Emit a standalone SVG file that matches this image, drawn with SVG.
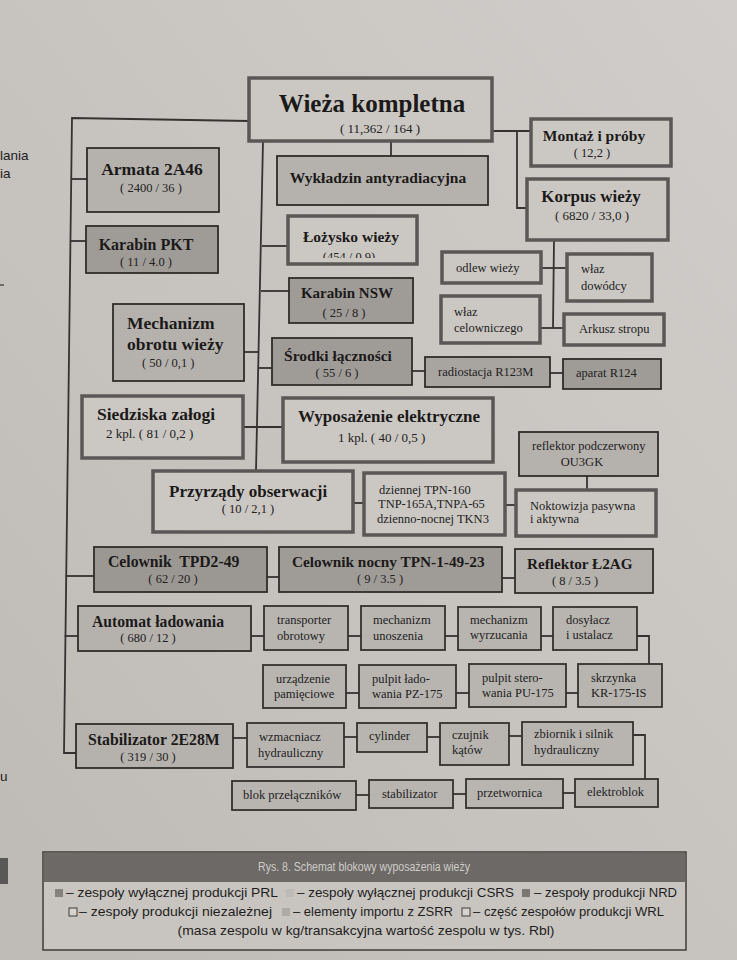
<svg xmlns="http://www.w3.org/2000/svg" width="737" height="960" viewBox="0 0 737 960">
<defs>
<linearGradient id="paper" x1="1" y1="0" x2="0" y2="1">
<stop offset="0" stop-color="#d0cdca"/>
<stop offset="1" stop-color="#bebbb7"/>
</linearGradient>
<clipPath id="cutLoz"><rect x="280" y="200" width="150" height="58"/></clipPath>
<style>
.lt{fill:#cbc8c4;stroke:#5a5856;stroke-width:3.5}
.md{fill:#b5b2ae;stroke:#2f2d2b;stroke-width:1.8}
.dk{fill:#9f9c98;stroke:#2f2d2b;stroke-width:1.8}
.sm{fill:#b8b5b1;stroke:#33312f;stroke-width:1.8}
.h{font-family:"Liberation Serif","Times New Roman",serif;font-weight:bold;fill:#1c1a19}
.n{font-family:"Liberation Serif","Times New Roman",serif;fill:#222120}
.c{text-anchor:middle}
.s{font-size:12.5px}
.ln{fill:none;stroke:#353331;stroke-width:1.8}
.sans{font-family:"Liberation Sans",Arial,sans-serif;fill:#1e1d1c;font-size:13.5px}
</style>
</defs>
<rect width="737" height="960" fill="url(#paper)"/>

<!-- neighbouring page remnants -->
<text class="sans" x="0" y="160" font-size="13">lania</text>
<text class="sans" x="0" y="178" font-size="13">ia</text>
<line x1="0" y1="285" x2="4" y2="285" stroke="#333" stroke-width="1.2"/>
<text class="sans" x="0" y="781" font-size="13">u</text>
<rect x="0" y="858" width="8" height="26" fill="#5a5856"/>

<g id="connectors">
<polyline class="ln" points="249,121 72,118 64,753 76,753"/>
<line class="ln" x1="71" y1="179" x2="87" y2="179"/>
<line class="ln" x1="70" y1="241" x2="86" y2="241"/>
<line class="ln" x1="65.5" y1="576" x2="94" y2="576"/>
<line class="ln" x1="64.7" y1="636" x2="78" y2="636"/>
<line class="ln" x1="263" y1="141" x2="256" y2="471"/>
<line class="ln" x1="262" y1="246" x2="288" y2="246"/>
<line class="ln" x1="261" y1="291" x2="289" y2="291"/>
<line class="ln" x1="244" y1="352" x2="258.5" y2="352"/>
<line class="ln" x1="258" y1="368" x2="272" y2="368"/>
<line class="ln" x1="243" y1="427" x2="283" y2="427"/>
<line class="ln" x1="391" y1="141" x2="391" y2="156"/>
<line class="ln" x1="492" y1="131" x2="531" y2="131"/>
<polyline class="ln" points="517,131 517,208 527,208"/>
<line class="ln" x1="554" y1="240" x2="553" y2="328"/>
<line class="ln" x1="541" y1="268" x2="567" y2="268"/>
<line class="ln" x1="540" y1="328" x2="564" y2="328"/>
<line class="ln" x1="412" y1="371" x2="425" y2="371"/>
<line class="ln" x1="550" y1="373" x2="563" y2="373"/>
<line class="ln" x1="353" y1="503" x2="364" y2="503"/>
<line class="ln" x1="505" y1="505" x2="516" y2="505"/>
<line class="ln" x1="587" y1="476" x2="587" y2="490"/>
<line class="ln" x1="267" y1="577" x2="279" y2="577"/>
<line class="ln" x1="502" y1="578" x2="515" y2="578"/>
<line class="ln" x1="251" y1="636" x2="264" y2="636"/>
<line class="ln" x1="348" y1="636" x2="361" y2="636"/>
<line class="ln" x1="445" y1="636" x2="458" y2="636"/>
<line class="ln" x1="541" y1="636" x2="553" y2="636"/>
<polyline class="ln" points="637,636 649,636 649,664"/>
<line class="ln" x1="346" y1="693" x2="359" y2="693"/>
<line class="ln" x1="456" y1="693" x2="469" y2="693"/>
<line class="ln" x1="566" y1="693" x2="578" y2="693"/>
<line class="ln" x1="233" y1="738" x2="247" y2="738"/>
<line class="ln" x1="344" y1="737" x2="357" y2="737"/>
<line class="ln" x1="427" y1="737" x2="440" y2="737"/>
<line class="ln" x1="509" y1="736" x2="522" y2="736"/>
<polyline class="ln" points="633,735 645,735 645,779"/>
<line class="ln" x1="356" y1="795" x2="369" y2="795"/>
<line class="ln" x1="453" y1="794" x2="466" y2="794"/>
<line class="ln" x1="563" y1="793" x2="575" y2="793"/>
</g>

<g id="n-wieza"><rect class="lt" x="249" y="78" width="243" height="63"/>
<text class="h c" x="372" y="112" font-size="25">Wieża kompletna</text>
<text class="n c" x="380" y="133" font-size="13">( 11,362 / 164 )</text></g>

<g id="n-montaz"><rect class="lt" x="531" y="119" width="140" height="47"/>
<text class="h c" x="594" y="141" font-size="15.5">Montaż i próby</text>
<text class="n c s" x="592" y="157">( 12,2 )</text></g>

<g id="n-korpus"><rect class="lt" x="527" y="179" width="141" height="61"/>
<text class="h c" x="591" y="202" font-size="17">Korpus wieży</text>
<text class="n c" x="592" y="220" font-size="13">( 6820 / 33,0 )</text></g>

<g id="n-armata"><rect class="md" x="87" y="148" width="132" height="64"/>
<text class="h c" x="152" y="175" font-size="17.5">Armata 2A46</text>
<text class="n c s" x="151" y="192">( 2400 / 36 )</text></g>

<g id="n-pkt"><rect class="dk" x="86" y="226" width="132" height="47"/>
<text class="h c" x="146" y="250" font-size="16">Karabin PKT</text>
<text class="n c s" x="146" y="266">( 11 / 4.0 )</text></g>

<g id="n-wykladzin"><rect class="md" x="277" y="156" width="211" height="49"/>
<text class="h c" x="378" y="183" font-size="15.5">Wykładzin antyradiacyjna</text></g>

<g id="n-lozysko"><rect x="288" y="216" width="129" height="48" fill="#cbc8c4"/>
<text class="h c" x="351" y="242" font-size="15.5">Łożysko wieży</text>
<text class="n c s" x="349" y="261" clip-path="url(#cutLoz)">(454 / 0,9)</text>
<rect x="288" y="216" width="129" height="48" fill="none" stroke="#5a5856" stroke-width="3.5"/></g>

<g id="n-nsw"><rect class="dk" x="289" y="278" width="124" height="45"/>
<text class="h c" x="347" y="298" font-size="15">Karabin NSW</text>
<text class="n c s" x="344" y="317">( 25 / 8 )</text></g>

<g id="n-odlew"><rect class="lt" x="442" y="252" width="99" height="31"/>
<text class="n s" x="456" y="272">odlew wieży</text></g>

<g id="n-wlazd"><rect class="lt" x="567" y="254" width="85" height="47"/>
<text class="n s" x="581" y="273">właz</text>
<text class="n s" x="581" y="290">dowódcy</text></g>

<g id="n-wlazc"><rect class="lt" x="441" y="296" width="99" height="47"/>
<text class="n s" x="454" y="316">właz</text>
<text class="n s" x="454" y="332">celowniczego</text></g>

<g id="n-arkusz"><rect class="lt" x="564" y="314" width="100" height="31"/>
<text class="n s" x="579" y="333">Arkusz stropu</text></g>

<g id="n-mech"><rect class="md" x="113" y="304" width="131" height="77"/>
<text class="h" x="127" y="329" font-size="17.5">Mechanizm</text>
<text class="h" x="127" y="350" font-size="17.5">obrotu wieży</text>
<text class="n s" x="142" y="367">( 50 / 0,1 )</text></g>

<g id="n-srodki"><rect class="dk" x="272" y="338" width="140" height="47"/>
<text class="h c" x="338" y="361" font-size="15.5">Środki łączności</text>
<text class="n c s" x="337" y="377">( 55 / 6 )</text></g>

<g id="n-radio"><rect class="dk" x="425" y="357" width="125" height="30" style="fill:#a8a5a1"/>
<text class="n s" x="438" y="376">radiostacja R123M</text></g>

<g id="n-aparat"><rect class="dk" x="563" y="359" width="98" height="30"/>
<text class="n s" x="576" y="377">aparat R124</text></g>

<g id="n-siedziska"><rect class="lt" x="82" y="396" width="161" height="62"/>
<text class="h" x="97" y="420" font-size="17.5">Siedziska załogi</text>
<text class="n" x="106" y="438" font-size="13">2 kpl. ( 81 / 0,2 )</text></g>

<g id="n-wyposazenie"><rect class="lt" x="283" y="398" width="210" height="64"/>
<text class="h" x="298" y="422" font-size="17">Wyposażenie elektryczne</text>
<text class="n" x="338" y="442" font-size="13">1 kpl. ( 40 / 0,5 )</text></g>

<g id="n-reflektorpod"><rect class="md" x="519" y="432" width="139" height="44"/>
<text class="n s" x="532" y="450">reflektor podczerwony</text>
<text class="n c s" x="582" y="466">OU3GK</text></g>

<g id="n-przyrzady"><rect class="lt" x="153" y="471" width="200" height="61"/>
<text class="h" x="169" y="497" font-size="17">Przyrządy obserwacji</text>
<text class="n c s" x="248" y="513">( 10 / 2,1 )</text></g>

<g id="n-dziennej"><rect class="lt" x="364" y="473" width="141" height="62"/>
<text class="n s" x="379" y="494">dziennej TPN-160</text>
<text class="n s" x="378" y="508">TNP-165A,TNPA-65</text>
<text class="n s" x="377" y="523">dzienno-nocnej TKN3</text></g>

<g id="n-noktowizja"><rect class="lt" x="516" y="490" width="140" height="46"/>
<text class="n s" x="530" y="510">Noktowizja pasywna</text>
<text class="n s" x="530" y="523">i aktywna</text></g>

<g id="n-tpd"><rect class="dk" x="94" y="547" width="173" height="45" style="fill:#9b9894"/>
<text class="h" x="108" y="567" font-size="15.7" style="white-space:pre">Celownik  TPD2-49</text>
<text class="n c s" x="173" y="583">( 62 / 20 )</text></g>

<g id="n-tpn"><rect class="dk" x="279" y="547" width="223" height="45"/>
<text class="h" x="292" y="567" font-size="15.3">Celownik nocny TPN-1-49-23</text>
<text class="n c s" x="380" y="583">( 9 / 3.5 )</text></g>

<g id="n-l2ag"><rect class="md" x="515" y="549" width="138" height="44"/>
<text class="h" x="527" y="569" font-size="15.2">Reflektor Ł2AG</text>
<text class="n c s" x="575" y="585">( 8 / 3.5 )</text></g>

<g id="n-automat"><rect class="md" x="78" y="606" width="173" height="45"/>
<text class="h" x="92" y="627" font-size="15.7">Automat ładowania</text>
<text class="n c s" x="148" y="642">( 680 / 12 )</text></g>

<g id="n-transporter"><rect class="sm" x="264" y="606" width="84" height="44"/>
<text class="n s" x="277" y="624">transporter</text>
<text class="n s" x="277" y="640">obrotowy</text></g>

<g id="n-unoszenia"><rect class="sm" x="361" y="606" width="84" height="44"/>
<text class="n s" x="373" y="624">mechanizm</text>
<text class="n s" x="373" y="640">unoszenia</text></g>

<g id="n-wyrzucania"><rect class="sm" x="458" y="607" width="83" height="43"/>
<text class="n s" x="470" y="624">mechanizm</text>
<text class="n s" x="470" y="639">wyrzucania</text></g>

<g id="n-dosylacz"><rect class="sm" x="553" y="607" width="84" height="43"/>
<text class="n s" x="566" y="624">dosyłacz</text>
<text class="n s" x="566" y="639">i ustalacz</text></g>

<g id="n-urzadzenie"><rect class="sm" x="263" y="665" width="83" height="43"/>
<text class="n s" x="276" y="683">urządzenie</text>
<text class="n s" x="274" y="698">pamięciowe</text></g>

<g id="n-pz175"><rect class="sm" x="359" y="665" width="97" height="43"/>
<text class="n s" x="372" y="683">pulpit łado-</text>
<text class="n s" x="372" y="698">wania PZ-175</text></g>

<g id="n-pu175"><rect class="sm" x="469" y="664" width="97" height="43"/>
<text class="n s" x="482" y="682">pulpit stero-</text>
<text class="n s" x="482" y="697">wania PU-175</text></g>

<g id="n-skrzynka"><rect class="sm" x="578" y="664" width="84" height="43"/>
<text class="n s" x="591" y="682">skrzynka</text>
<text class="n s" x="591" y="697">KR-175-IS</text></g>

<g id="n-stabilizator2e"><rect class="md" x="76" y="724" width="157" height="44"/>
<text class="h" x="88" y="745" font-size="15.8">Stabilizator 2E28M</text>
<text class="n c s" x="148" y="761">( 319 / 30 )</text></g>

<g id="n-wzmacniacz"><rect class="sm" x="247" y="723" width="97" height="44"/>
<text class="n s" x="259" y="741">wzmacniacz</text>
<text class="n s" x="258" y="757">hydrauliczny</text></g>

<g id="n-cylinder"><rect class="sm" x="357" y="723" width="70" height="29"/>
<text class="n s" x="369" y="740">cylinder</text></g>

<g id="n-czujnik"><rect class="sm" x="440" y="723" width="69" height="42"/>
<text class="n s" x="452" y="739">czujnik</text>
<text class="n s" x="452" y="754">kątów</text></g>

<g id="n-zbiornik"><rect class="sm" x="522" y="722" width="111" height="43"/>
<text class="n s" x="534" y="738">zbiornik i silnik</text>
<text class="n s" x="534" y="754">hydrauliczny</text></g>

<g id="n-blok"><rect class="sm" x="232" y="781" width="124" height="29"/>
<text class="n s" x="243" y="799">blok przełączników</text></g>

<g id="n-stabilizator"><rect class="sm" x="369" y="780" width="84" height="28"/>
<text class="n s" x="382" y="798">stabilizator</text></g>

<g id="n-przetwornica"><rect class="sm" x="466" y="779" width="97" height="29"/>
<text class="n s" x="477" y="797">przetwornica</text></g>

<g id="n-elektroblok"><rect class="sm" x="575" y="779" width="83" height="28"/>
<text class="n s" x="587" y="796">elektroblok</text></g>

<g id="caption">
<rect x="43" y="852" width="643" height="98" fill="#c8c5c1" stroke="#3e3c3a" stroke-width="1.5"/>
<rect x="44" y="853" width="641" height="29" fill="#6c6966"/>
<text x="364" y="871" text-anchor="middle" font-family="'Liberation Sans',Arial,sans-serif" font-size="12" fill="#cfccc8" textLength="212" lengthAdjust="spacingAndGlyphs">Rys. 8. Schemat blokowy wyposażenia wieży</text>
<rect x="55" y="889" width="8" height="8" fill="#858280"/>
<text class="sans" x="66" y="897" textLength="212" lengthAdjust="spacingAndGlyphs">– zespoły wyłącznej produkcji PRL</text>
<rect x="286" y="889" width="8" height="8" fill="#bdbab6"/>
<text class="sans" x="297" y="897" textLength="217" lengthAdjust="spacingAndGlyphs">– zespoły wyłącznej produkcji CSRS</text>
<rect x="522" y="889" width="8" height="8" fill="#7a7774"/>
<text class="sans" x="534" y="897" textLength="143" lengthAdjust="spacingAndGlyphs">– zespoły produkcji NRD</text>
<rect x="69" y="908" width="8" height="8" fill="#d6d3cf" stroke="#3e3c3a" stroke-width="1"/>
<text class="sans" x="79" y="916" textLength="193" lengthAdjust="spacingAndGlyphs">– zespoły produkcji niezależnej</text>
<rect x="282" y="908" width="8" height="8" fill="#aeaba7"/>
<text class="sans" x="293" y="916" textLength="160" lengthAdjust="spacingAndGlyphs">– elementy importu z ZSRR</text>
<rect x="462" y="908" width="8" height="8" fill="#d6d3cf" stroke="#3e3c3a" stroke-width="1"/>
<text class="sans" x="473" y="916" textLength="191" lengthAdjust="spacingAndGlyphs">– część zespołów produkcji WRL</text>
<text class="sans" x="366" y="935" text-anchor="middle" textLength="377" lengthAdjust="spacingAndGlyphs">(masa zespolu w kg/transakcyjna wartość zespolu w tys. Rbl)</text>
</g>
</svg>
